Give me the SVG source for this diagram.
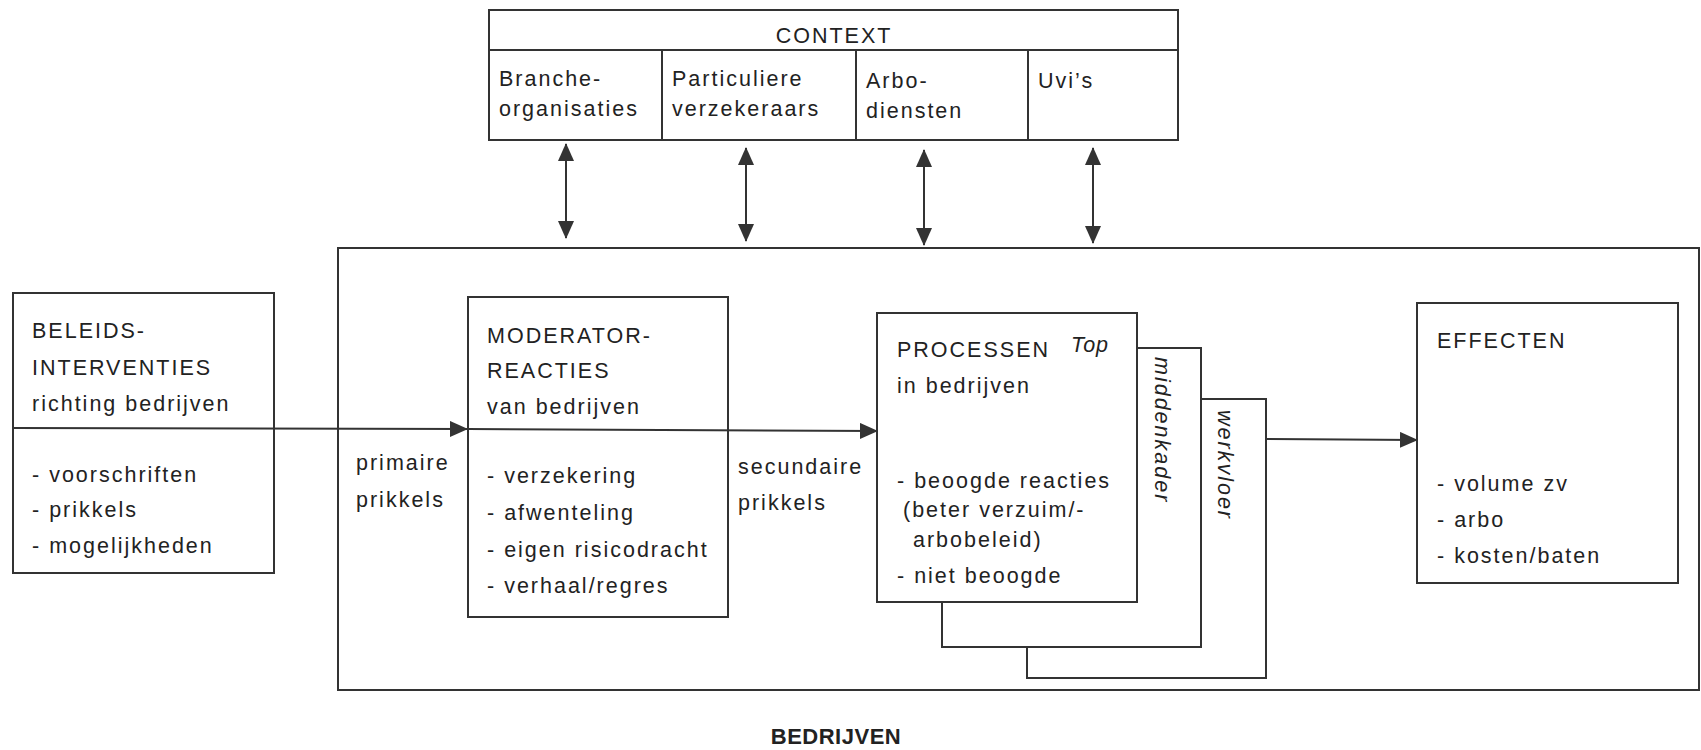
<svg xmlns="http://www.w3.org/2000/svg" width="1701" height="750" viewBox="0 0 1701 750">
<defs>
<style>
.box{fill:none;stroke:#333333;stroke-width:2}
.ln{fill:none;stroke:#333333;stroke-width:2}
text{font-family:"Liberation Sans",Arial,sans-serif;font-size:21.5px;fill:#222222;letter-spacing:2px}
.it{font-style:italic}
.bold{font-weight:bold;letter-spacing:0.5px;font-size:22px}
</style>
<marker id="ah" markerWidth="18" markerHeight="16" refX="17" refY="8" orient="auto-start-reverse" markerUnits="userSpaceOnUse">
<path d="M0,0 L18,8 L0,16 z" fill="#333333"/>
</marker>
</defs>
<rect width="1701" height="750" fill="#ffffff"/>

<g id="context">
<rect class="box" x="489" y="10" width="689" height="130"/>
<line class="ln" x1="489" y1="50" x2="1178" y2="50"/>
<line class="ln" x1="662" y1="50" x2="662" y2="140"/>
<line class="ln" x1="856" y1="50" x2="856" y2="140"/>
<line class="ln" x1="1028" y1="50" x2="1028" y2="140"/>
<text x="834" y="43" text-anchor="middle">CONTEXT</text>
<text x="499" y="86">Branche-</text>
<text x="499" y="116">organisaties</text>
<text x="672" y="86">Particuliere</text>
<text x="672" y="116">verzekeraars</text>
<text x="866" y="88">Arbo-</text>
<text x="866" y="118">diensten</text>
<text x="1038" y="88">Uvi’s</text>
</g>

<g id="bedrijven">
<rect class="box" x="338" y="248" width="1361" height="442"/>
<text class="bold" x="836" y="744" text-anchor="middle">BEDRIJVEN</text>
</g>

<g id="beleidsinterventies">
<rect class="box" x="13" y="293" width="261" height="280"/>
<text x="32" y="338">BELEIDS-</text>
<text x="32" y="375">INTERVENTIES</text>
<text x="32" y="411">richting bedrijven</text>
<text x="32" y="482">- voorschriften</text>
<text x="32" y="517">- prikkels</text>
<text x="32" y="553">- mogelijkheden</text>
</g>

<g id="moderator">
<rect class="box" x="468" y="297" width="260" height="320"/>
<text x="487" y="343">MODERATOR-</text>
<text x="487" y="378">REACTIES</text>
<text x="487" y="414">van bedrijven</text>
<text x="487" y="483">- verzekering</text>
<text x="487" y="520">- afwenteling</text>
<text x="487" y="557">- eigen risicodracht</text>
<text x="487" y="593">- verhaal/regres</text>
</g>

<g id="processen">
<path class="ln" d="M1201,399 H1266 V678 H1027 V647"/>
<path class="ln" d="M1137,348 H1201 V647 H942 V602"/>
<rect class="box" x="877" y="313" width="260" height="289"/>
<text x="897" y="357">PROCESSEN</text>
<text class="it" x="1071" y="352" style="letter-spacing:1px">Top</text>
<text x="897" y="393">in bedrijven</text>
<text x="897" y="488">- beoogde reacties</text>
<text x="903" y="517">(beter verzuim/-</text>
<text x="913" y="547">arbobeleid)</text>
<text x="897" y="583">- niet beoogde</text>
<text class="it" transform="translate(1155,357) rotate(90)">middenkader</text>
<text class="it" transform="translate(1218,410) rotate(90)">werkvloer</text>
</g>

<g id="effecten">
<rect class="box" x="1417" y="303" width="261" height="280"/>
<text x="1437" y="348">EFFECTEN</text>
<text x="1437" y="491">- volume zv</text>
<text x="1437" y="527">- arbo</text>
<text x="1437" y="563">- kosten/baten</text>
</g>

<g id="labels">
<text x="356" y="470">primaire</text>
<text x="356" y="507">prikkels</text>
<text x="738" y="474">secundaire</text>
<text x="738" y="510">prikkels</text>
</g>

<g id="connectors">
<line class="ln" x1="13" y1="428" x2="467" y2="429" marker-end="url(#ah)"/>
<line class="ln" x1="468" y1="429" x2="877" y2="431" marker-end="url(#ah)"/>
<line class="ln" x1="1266" y1="439" x2="1417" y2="440" marker-end="url(#ah)"/>
<line class="ln" x1="566" y1="144" x2="566" y2="238" marker-start="url(#ah)" marker-end="url(#ah)"/>
<line class="ln" x1="746" y1="148" x2="746" y2="241" marker-start="url(#ah)" marker-end="url(#ah)"/>
<line class="ln" x1="924" y1="150" x2="924" y2="245" marker-start="url(#ah)" marker-end="url(#ah)"/>
<line class="ln" x1="1093" y1="148" x2="1093" y2="243" marker-start="url(#ah)" marker-end="url(#ah)"/>
</g>
</svg>
